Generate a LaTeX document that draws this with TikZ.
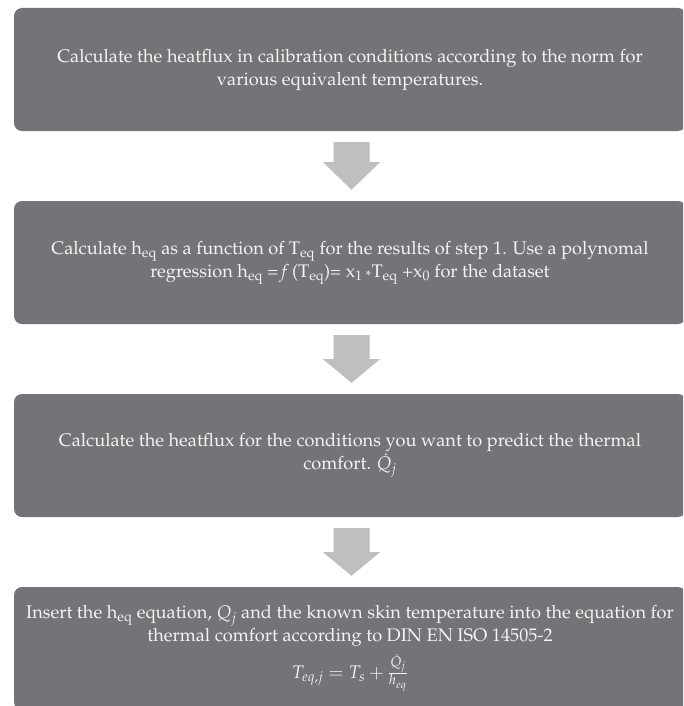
\documentclass[tikz,border=0pt]{standalone}
\usepackage[T1]{fontenc}
\usepackage{mathpazo}
\usetikzlibrary{calc}
\definecolor{boxgray}{HTML}{747378}
\definecolor{arrowgray}{HTML}{BFBFBF}
\definecolor{txtwhite}{HTML}{F4F4F4}
\tikzset{
  stepbox/.style={fill=boxgray, rounded corners=8pt, minimum width=672pt,
    minimum height=123pt, inner sep=0pt, align=center, text=txtwhite,
    font=\fontsize{18.2}{23}\selectfont},
  fatarrow/.style={fill=arrowgray, draw=none}
}
\newcommand{\blockarrow}[3]{%
  \fill[fatarrow] ($(#1.south)+(-16.5,11)$) -- ($(#1.south)+(19.5,11)$)
    -- ($(#1.south)+(19.5,#3)$) -- ($(#1.south)+(30,#3)$)
    -- ($(#2.north)+(1.5,-11)$) -- ($(#1.south)+(-27,#3)$)
    -- ($(#1.south)+(-16.5,#3)$) -- cycle;}
\begin{document}
\begin{tikzpicture}[x=1pt,y=-1pt]
\useasboundingbox (0,0) rectangle (683,706);
\clip (0,0) rectangle (683,706);
\node[stepbox] (s1) at (350,69.5) {Calculate the heatflux in calibration conditions according to the norm for\\
various equivalent temperatures.};
\node[stepbox] (s2) at (350,262.5) {Calculate h\textsubscript{eq} as a function of T\textsubscript{eq} for the results of step 1. Use a polynomal\\
regression h\textsubscript{eq} =\,\textit{f}\,(T\textsubscript{eq})= x\textsubscript{1}\,\textsubscript{*}T\textsubscript{eq} +x\textsubscript{0} for the dataset};
\node[stepbox] (s3) at (350,455.5) {Calculate the heatflux for the conditions you want to predict the thermal\\
comfort. $\dot{Q}_j$};
\node[stepbox] (s4) at (350,648.5) {Insert the h\textsubscript{eq} equation, $Q_j$ and the known skin temperature into the equation for\\
thermal comfort according to DIN EN ISO 14505-2\\[7pt]
$T_{eq,j} = T_s + \frac{\dot{Q}_j}{h_{_{eq}}}$};
\blockarrow{s1}{s2}{31}
\blockarrow{s2}{s3}{35}
\blockarrow{s3}{s4}{35}
\end{tikzpicture}
\end{document}
